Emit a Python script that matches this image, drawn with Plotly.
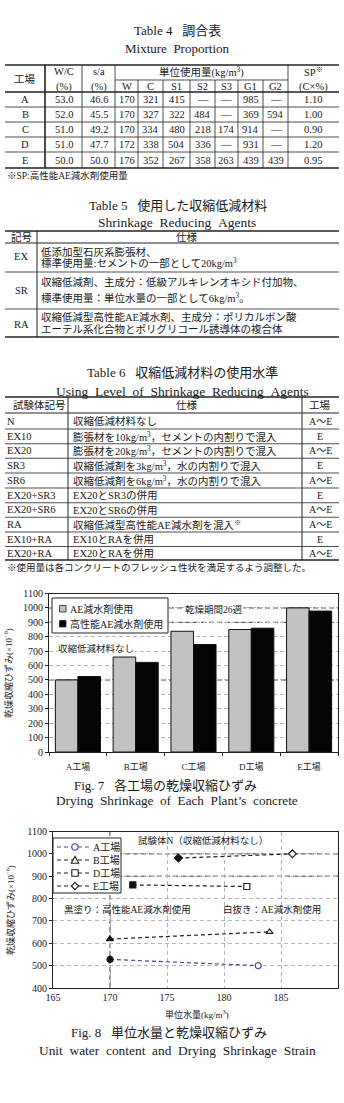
import plotly.graph_objects as go

FONT = "Liberation Serif, Noto Sans CJK JP, serif"
INK = "#1a1a1a"
W_PX, H_PX = 344, 1103

# ---------------- data ----------------
# Table 4
t4_plants = ["A", "B", "C", "D", "E"]
t4_wc = ["53.0", "52.0", "51.0", "51.0", "50.0"]
t4_sa = ["46.6", "45.5", "49.2", "47.7", "50.0"]
t4_W = ["170", "170", "170", "172", "176"]
t4_C = ["321", "327", "334", "338", "352"]
t4_S1 = ["415", "322", "480", "504", "267"]
t4_S2 = ["—", "484", "218", "336", "358"]
t4_S3 = ["—", "—", "174", "—", "263"]
t4_G1 = ["985", "369", "914", "931", "439"]
t4_G2 = ["—", "594", "—", "—", "439"]
t4_SP = ["1.10", "1.00", "0.90", "1.20", "0.95"]

# Table 5
t5_codes = ["EX", "SR", "RA"]
t5_line1 = ["低添加型石灰系膨張材、",
            "収縮低減剤、主成分：低級アルキレンオキシド付加物、",
            "収縮低減型高性能AE減水剤、主成分：ポリカルボン酸"]
t5_line2 = ["標準使用量:セメントの一部として20kg/m<sup>3</sup>",
            "標準使用量：単位水量の一部として6kg/m<sup>3</sup>。",
            "エーテル系化合物とポリグリコール誘導体の複合体"]

# Table 6
t6_codes = ["N", "EX10", "EX20", "SR3", "SR6", "EX20+SR3", "EX20+SR6", "RA", "EX10+RA", "EX20+RA"]
t6_specs = ["収縮低減材料なし",
            "膨張材を10kg/m<sup>3</sup>，セメントの内割りで混入",
            "膨張材を20kg/m<sup>3</sup>，セメントの内割りで混入",
            "収縮低減剤を3kg/m<sup>3</sup>，水の内割りで混入",
            "収縮低減剤を6kg/m<sup>3</sup>，水の内割りで混入",
            "EX20とSR3の併用",
            "EX20とSR6の併用",
            "収縮低減型高性能AE減水剤を混入<sup>※</sup>",
            "EX10とRAを併用",
            "EX20とRAを併用"]
t6_plants = ["A～E", "E", "A～E", "E", "A～E", "E", "A～E", "A～E", "E", "A～E"]

# Fig 7
f7_plants = ["A工場", "B工場", "C工場", "D工場", "E工場"]
f7_ae = [500, 659, 838, 850, 1000]
f7_hpae = [524, 622, 746, 859, 978]
f7_yticks = list(range(0, 1101, 100))

# Fig 8
f8_names = ["A工場", "B工場", "D工場", "E工場"]
f8_water = [[170, 183], [170, 184], [172, 182], [176, 186]]
f8_strain = [[528, 500], [619, 651], [861, 854], [981, 1000]]
f8_colors = ["#4848a8", "#222222", "#222222", "#222222"]
f8_symbols = ["circle", "triangle-up", "square", "diamond"]
f8_xticks = [165, 170, 175, 180, 185, 190]

# ---------------- helpers ----------------
def px(x):
    return x / W_PX


def py(y):
    return 1 - y / H_PX


ann = []
shp = []


def text(x, y, s, size=10, anchor="center", color=INK, angle=0, bg=None):
    d = dict(x=px(x), y=py(y), xref="paper", yref="paper", text=s, showarrow=False,
             xanchor=anchor, yanchor="middle", textangle=angle, borderpad=0,
             font=dict(family=FONT, size=size, color=color))
    if bg:
        d["bgcolor"] = bg
    ann.append(d)


def hline(x0, x1, y, w=1.0, color="#222", dash=None):
    shp.append(dict(type="line", xref="paper", yref="paper", x0=px(x0), x1=px(x1),
                    y0=py(y), y1=py(y), line=dict(color=color, width=w, dash=dash)))


def vline(x, y0, y1, w=1.0, color="#222", dash=None):
    shp.append(dict(type="line", xref="paper", yref="paper", x0=px(x), x1=px(x),
                    y0=py(y0), y1=py(y1), line=dict(color=color, width=w, dash=dash)))


def rect(x0, y0, x1, y1, fill="white", color="#222", w=1.0):
    shp.append(dict(type="rect", xref="paper", yref="paper", x0=px(x0), x1=px(x1),
                    y0=py(y1), y1=py(y0), fillcolor=fill, line=dict(color=color, width=w)))


def path(points, fill="white", color="#222", w=1.0):
    p = "M " + " L ".join(f"{px(a):.5f},{py(b):.5f}" for a, b in points) + " Z"
    shp.append(dict(type="path", xref="paper", yref="paper", path=p, fillcolor=fill,
                    line=dict(color=color, width=w)))


# ---------------- Table 4 ----------------
text(177, 30, "Table 4\u00a0\u00a0\u00a0調合表", size=13)
text(177, 48, "Mixture\u00a0\u00a0Proportion", size=13)
L, R = 5, 339
hline(L, R, 65, 1.6)
hline(115, 288, 80, 0.8)
hline(L, R, 92, 1.6)
for yy in [107, 122, 137, 152]:
    hline(L, R, yy, 0.8)
hline(L, R, 168, 1.6)
vline(45, 65, 168, 1.6)
for xx in [82, 115, 288]:
    vline(xx, 65, 168, 0.8)
for xx in [138, 163, 190, 215, 238, 263]:
    vline(xx, 80, 168, 0.8)
text(25, 78.5, "工場", 10.5)
text(63.5, 72, "W/C", 10.5)
text(63.5, 86.5, "(%)", 10.5)
text(98.5, 72, "s/a", 10.5)
text(98.5, 86.5, "(%)", 10.5)
text(201.5, 72, "単位使用量(kg/m<sup>3</sup>)", 10.5)
sub_cols = [("W", 126.5), ("C", 150.5), ("S1", 176.5), ("S2", 202.5), ("S3", 226.5), ("G1", 250.5), ("G2", 275.5)]
for lab, xx in sub_cols:
    text(xx, 86.5, lab, 10.5)
text(313, 72, "SP<sup>※</sup>", 10.5)
text(313, 86.5, "(C×%)", 10.5)
row_y = [99.5, 114.5, 129.5, 144.5, 160]
cols = [(t4_plants, 25), (t4_wc, 63.5), (t4_sa, 98.5), (t4_W, 126.5), (t4_C, 150.5),
        (t4_S1, 176.5), (t4_S2, 202.5), (t4_S3, 226.5), (t4_G1, 250.5), (t4_G2, 275.5), (t4_SP, 313)]
for vals, xx in cols:
    for v, yy in zip(vals, row_y):
        text(xx, yy, v, 10.5)
text(6, 175.5, "※SP:高性能AE減水剤使用量", 9.5, anchor="left")

# ---------------- Table 5 ----------------
text(178, 205, "Table 5\u00a0\u00a0\u00a0使用した収縮低減材料", size=13)
text(177, 223, "Shrinkage\u00a0\u00a0Reducing\u00a0\u00a0Agents", size=13.5)
hline(L, R, 231, 1.6)
hline(L, R, 243, 1.0)
hline(L, R, 272, 0.8)
hline(L, R, 309, 0.8)
hline(L, R, 337, 1.6)
vline(37, 231, 337, 1.0)
text(21, 237, "記号", 10.5)
text(187, 237, "仕様", 10.5)
t5_y1 = [252, 282, 317]
t5_y2 = [262.5, 297, 329]
t5_yc = [257, 290, 324]
for c, l1, l2, y1, y2, yc in zip(t5_codes, t5_line1, t5_line2, t5_y1, t5_y2, t5_yc):
    text(21, yc, c, 10.5)
    text(40, y1, l1, 10.5, anchor="left")
    text(40, y2, l2, 10.5, anchor="left")

# ---------------- Table 6 ----------------
text(182, 372, "Table 6\u00a0\u00a0\u00a0収縮低減材料の使用水準", size=13)
text(182, 391, "Using\u00a0\u00a0Level\u00a0\u00a0of\u00a0\u00a0Shrinkage\u00a0\u00a0Reducing\u00a0\u00a0Agents", size=13.5)
hline(L, R, 397, 1.6)
hline(L, R, 413, 1.0)
t6_y = [421, 436, 450.5, 465, 480, 495, 509.5, 524, 539, 553]
for a, b in zip(t6_y[:-1], t6_y[1:]):
    hline(L, R, (a + b) / 2 + 0.5, 0.8)
hline(L, R, 560, 1.6)
vline(68, 397, 560, 1.0)
vline(302, 397, 560, 1.0)
text(39, 405, "試験体記号", 10.5)
text(187, 405, "仕様", 10.5)
text(320, 405, "工場", 10.5)
for c, s, pl, yy in zip(t6_codes, t6_specs, t6_plants, t6_y):
    text(6, yy, c, 10.5, anchor="left")
    text(72, yy, s, 10.5, anchor="left")
    text(320, yy, pl, 10, anchor="center")
text(6, 567, "※使用量は各コンクリートのフレッシュ性状を満足するよう調整した。", 9.5, anchor="left")

# ---------------- Fig 7 (bars) ----------------
traces = []
traces.append(go.Bar(x=f7_plants, y=f7_ae, marker=dict(color="#c2c2c2", line=dict(color="#111", width=1)),
                     xaxis="x", yaxis="y", showlegend=False, name="AE減水剤使用"))
traces.append(go.Bar(x=f7_plants, y=f7_hpae, marker=dict(color="#050505", line=dict(color="#111", width=1)),
                     xaxis="x", yaxis="y", showlegend=False, name="高性能AE減水剤使用"))
for yv in [1000, 900, 500]:
    shp.append(dict(type="line", xref="x domain", yref="y", x0=0, x1=1, y0=yv, y1=yv, layer="below",
                    line=dict(color="#333", width=1, dash="5px,3px")))
# legend box
rect(52, 598, 168, 633, fill="white", color="#222", w=1)
rect(59.5, 605.5, 66, 612, fill="#c2c2c2", color="#222", w=0.8)
rect(59.5, 620.5, 66, 627, fill="#050505", color="#222", w=0.8)
text(69, 609, "AE減水剤使用", 10, anchor="left")
text(69, 624, "高性能AE減水剤使用", 10, anchor="left")
text(214, 609.5, "乾燥期間26週", 9.5, bg="white")
text(57, 648.5, "収縮低減材料なし", 9.5, anchor="left", bg="white")
text(8, 673, "乾燥収縮ひずみ(×10<sup>−6</sup>)", 9, angle=-90)
text(165, 785, "Fig.\u00a07\u00a0\u00a0\u00a0各工場の乾燥収縮ひずみ", 13)
text(177, 800.5, "Drying\u00a0\u00a0Shrinkage\u00a0\u00a0of\u00a0\u00a0Each\u00a0\u00a0Plant’s\u00a0\u00a0concrete", 13.2)

# ---------------- Fig 8 (scatter) ----------------
for name, xs, ys, col, sym in zip(f8_names, f8_water, f8_strain, f8_colors, f8_symbols):
    traces.append(go.Scatter(x=xs, y=ys, mode="lines+markers", name=name, showlegend=False,
                             line=dict(color=col, width=1.2, dash="4px,3px"),
                             marker=dict(symbol=sym, size=6, color=["#111", "white"],
                                         line=dict(color=["#111", col], width=1.2)),
                             xaxis="x2", yaxis="y2"))
for yv in [1000, 900]:
    shp.append(dict(type="line", xref="x2 domain", yref="y2", x0=0, x1=1, y0=yv, y1=yv, layer="below",
                    line=dict(color="#333", width=1, dash="5px,3px")))
shp.append(dict(type="line", xref="x2", yref="y2 domain", x0=170, x1=170, y0=0, y1=1, layer="below",
                line=dict(color="#333", width=1, dash="5px,3px")))
# legend box
rect(53, 838, 121, 893, fill="white", color="#222", w=1)
leg_y = [847, 860, 873, 886]
for name, col, sym, yy in zip(f8_names, f8_colors, f8_symbols, leg_y):
    hline(57, 90, yy, 1.1, color=col, dash="4px,3px")
    cx, r = 75, 3.2
    if sym == "circle":
        shp.append(dict(type="circle", xref="paper", yref="paper", x0=px(cx - r), x1=px(cx + r),
                        y0=py(yy + r), y1=py(yy - r), fillcolor="white", line=dict(color=col, width=1.1)))
    elif sym == "triangle-up":
        path([(cx, yy - r - 0.5), (cx + r + 0.5, yy + r), (cx - r - 0.5, yy + r)], color=col, w=1.1)
    elif sym == "square":
        rect(cx - r, yy - r, cx + r, yy + r, fill="white", color=col, w=1.1)
    else:
        path([(cx, yy - r - 0.5), (cx + r + 0.5, yy), (cx, yy + r + 0.5), (cx - r - 0.5, yy)], color=col, w=1.1)
    text(92, yy, name, 10, anchor="left")
text(203, 840, "試験体N（収縮低減材料なし）", 9.5)
text(63, 909, "黒塗り：高性能AE減水剤使用", 9.5, anchor="left")
text(222, 909, "白抜き：AE減水剤使用", 9.5, anchor="left")
text(10, 910, "乾燥収縮ひずみ(×10<sup>−6</sup>)", 9, angle=-90)
text(197, 1013.5, "単位水量(kg/m<sup>3</sup>)", 9)
text(169, 1032, "Fig.\u00a08\u00a0\u00a0\u00a0単位水量と乾燥収縮ひずみ", 13)
text(177, 1050, "Unit\u00a0\u00a0water\u00a0\u00a0content\u00a0\u00a0and\u00a0\u00a0Drying\u00a0\u00a0Shrinkage\u00a0\u00a0Strain", 13.4)

# ---------------- layout ----------------
fig = go.Figure(data=traces)
tickfont = dict(family=FONT, size=10, color=INK)
fig.update_layout(
    width=W_PX, height=H_PX, margin=dict(l=0, r=0, t=0, b=0),
    template="none", paper_bgcolor="white", plot_bgcolor="white",
    barmode="group", bargap=0.22, bargroupgap=0.0,
    showlegend=False,
    xaxis=dict(domain=[px(49), px(338)], anchor="y", type="category", showline=True, mirror=True,
               linecolor="#222", linewidth=1, ticks="outside", tickson="boundaries", ticklen=3,
               tickcolor="#222", showgrid=False, tickfont=dict(family=FONT, size=9, color=INK),
               ticklabelstandoff=6, automargin=False, fixedrange=True),
    yaxis=dict(domain=[py(752), py(593.5)], anchor="x", range=[0, 1100], tickvals=f7_yticks,
               showline=True, mirror=True, linecolor="#222", linewidth=1, ticks="outside", ticklen=3,
               tickcolor="#222", showgrid=True, gridcolor="#b5b5b5", griddash="4px,3px", gridwidth=1,
               zeroline=False, tickfont=tickfont, automargin=False, fixedrange=True),
    xaxis2=dict(domain=[px(53), px(338)], anchor="y2", range=[165, 190], tickvals=f8_xticks,
                showline=True, mirror=True, linecolor="#222", linewidth=1, ticks="",
                showgrid=True, gridcolor="#b5b5b5", griddash="4px,3px", gridwidth=1, zeroline=False,
                tickfont=tickfont, automargin=False, fixedrange=True),
    yaxis2=dict(domain=[py(988), py(831.5)], anchor="x2", range=[400, 1100], dtick=100,
                showline=True, mirror=True, linecolor="#222", linewidth=1, ticks="outside", ticklen=3,
                tickcolor="#222", showgrid=True, gridcolor="#b5b5b5", griddash="4px,3px", gridwidth=1,
                zeroline=False, tickfont=tickfont, automargin=False, fixedrange=True),
    annotations=ann, shapes=shp,
)
fig.write_html("out.html")
